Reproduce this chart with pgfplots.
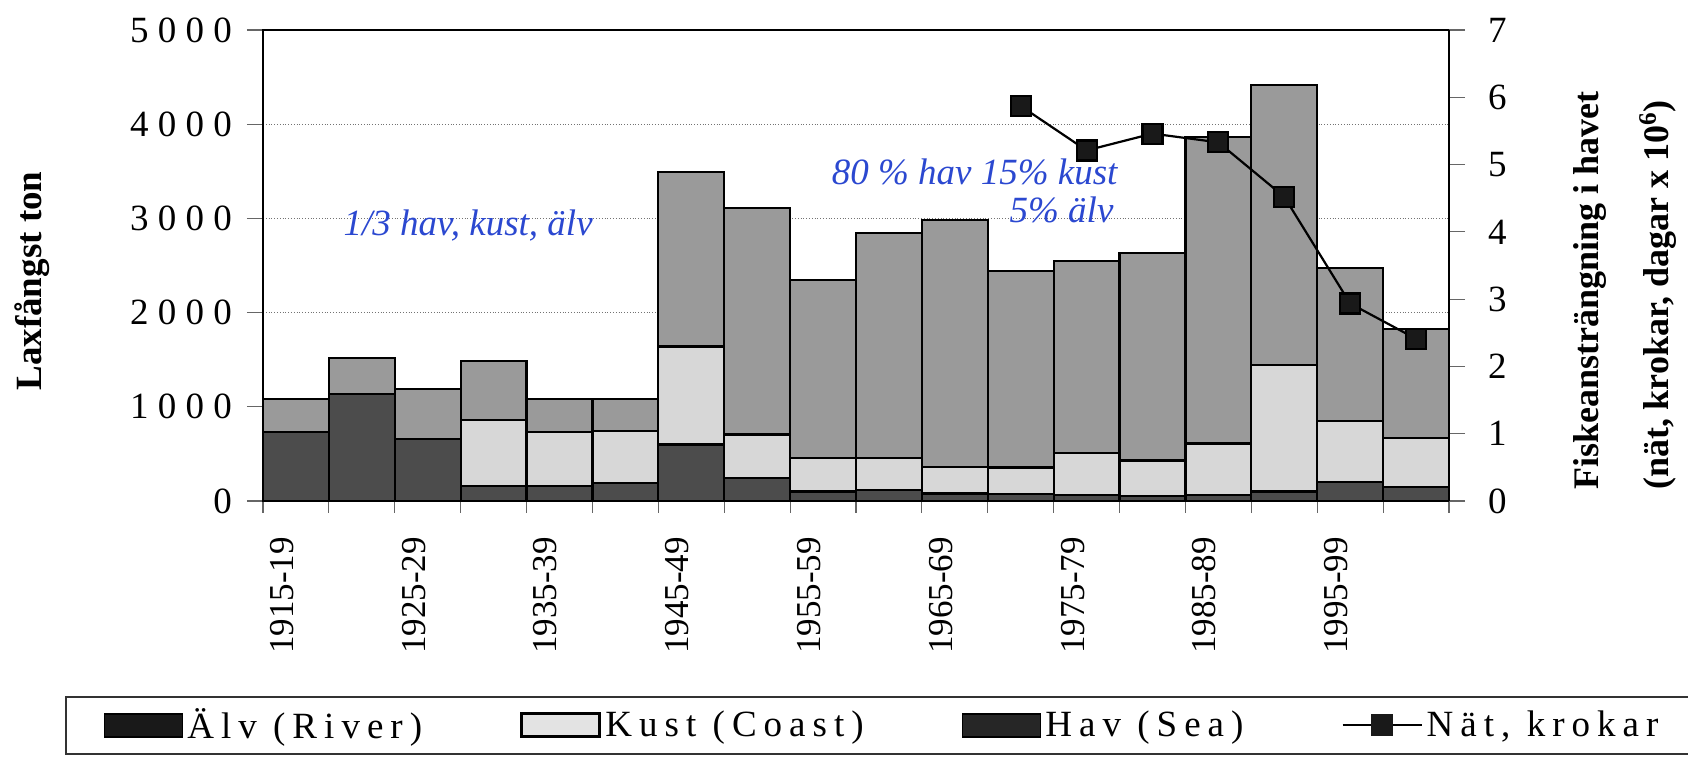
\documentclass[border=0pt]{standalone}
\usepackage{fontspec}
\setmainfont{Liberation Serif}
\newfontfamily\spaced{Liberation Serif}[LetterSpace=19]
\newfontfamily\tspaced{Liberation Serif}[LetterSpace=25]
\usepackage{pgfplots}
\pgfplotsset{compat=1.18}

\definecolor{alv}{HTML}{4C4C4C}
\definecolor{kust}{HTML}{D7D7D7}
\definecolor{hav}{HTML}{9A9A9A}
\definecolor{pen}{HTML}{2B48D0}

\newcommand\cf{\fontsize{18.5pt}{22pt}\selectfont}

\begin{document}
\begin{tikzpicture}
% page = reference frame, 1 px = 0.5pt, axis box at origin
\path[use as bounding box] (-131.5pt,-128.5pt) rectangle (712.5pt,250.5pt);

\begin{axis}[
    at={(0,0)}, anchor=south west,
    width=593pt, height=235.5pt, scale only axis,
    clip=false,
    xmin=-0.5, xmax=17.5,
    ymin=0, ymax=5000,
    ybar stacked, bar width=1,
    axis line style={line width=1pt},
    xtick={0,2,...,16},
    xticklabels={1915-19,1925-29,1935-39,1945-49,1955-59,1965-69,1975-79,1985-89,1995-99},
    major x tick style={draw=none},
    minor xtick={-0.5,0.5,...,17.5},
    xtick pos=bottom, ytick pos=left,
    tick align=outside,
    major tick length=8pt, minor tick length=6pt,
    tick style={black!60, line width=0.6pt},
    ytick={0,1000,...,5000},
    scaled y ticks=false,
    ymajorgrids,
    grid style={densely dotted, black!55, line width=0.6pt},
    /pgf/number format/assume math mode=true,
    /pgf/number format/1000 sep={},
    yticklabel style={font=\cf\tspaced, xshift=-4pt},
    xticklabel style={font={\fontsize{17.5pt}{21pt}\selectfont}, xshift=-7pt, yshift=-6.5pt, rotate=90, anchor=east},
]
% Alv (River)
\addplot[fill=alv, draw=black, line width=1.1pt] coordinates {
    (0,735) (1,1140) (2,655) (3,160) (4,155) (5,195) (6,600) (7,240) (8,100)
    (9,120) (10,80) (11,75) (12,60) (13,50) (14,60) (15,100) (16,200) (17,150)};
% Kust (Coast)
\addplot[fill=kust, draw=black, line width=1.1pt] coordinates {
    (0,0) (1,0) (2,0) (3,700) (4,575) (5,550) (6,1040) (7,465) (8,355)
    (9,340) (10,280) (11,280) (12,450) (13,380) (14,550) (15,1340) (16,645) (17,520)};
% Hav (Sea)
\addplot[fill=hav, draw=black, line width=1.1pt] coordinates {
    (0,350) (1,380) (2,535) (3,630) (4,355) (5,340) (6,1850) (7,2405) (8,1895)
    (9,2385) (10,2620) (11,2085) (12,2040) (13,2200) (14,3250) (15,2980) (16,1625) (17,1160)};

\node[font={\cf\bfseries}, rotate=90] at (rel axis cs:-0.195,0.467) {Laxfångst ton};
\node[font={\cf\itshape}, text=pen] at (rel axis cs:0.173,0.584) {1/3 hav, kust, älv};
\node[font={\cf\itshape}, text=pen] at (rel axis cs:0.600,0.698) {80 \% hav 15\% kust};
\node[font={\cf\itshape}, text=pen, anchor=east] at (rel axis cs:0.723,0.618) {5\% älv};
\end{axis}

\begin{axis}[
    at={(0,0)}, anchor=south west,
    width=593pt, height=235.5pt, scale only axis,
    clip=false,
    xmin=-0.5, xmax=17.5,
    ymin=0, ymax=7,
    axis x line=none,
    axis y line*=right,
    axis line style={line width=1pt},
    ytick={0,1,...,7},
    tick align=outside,
    major tick length=8pt,
    tick style={black!60, line width=0.6pt},
    /pgf/number format/assume math mode=true,
    yticklabel style={font=\cf, xshift=8pt},
    legend columns=4,
    legend cell align=left,
    legend style={at={(-0.167,-0.414)}, anchor=north west,
        draw=black!80, line width=0.8pt,
        inner xsep=19pt, inner ysep=4pt,
        font=\cf\spaced,
        /tikz/every even column/.append style={column sep=47pt}},
]
\addlegendimage{legend image code/.code={
    \draw[fill=black!90, draw=black, line width=0.8pt] (0pt,-5.75pt) rectangle (39pt,5.75pt);}}
\addlegendentry{Älv (River)}
\addlegendimage{legend image code/.code={
    \draw[fill=kust!70!white, draw=black, line width=1.6pt] (0pt,-5.75pt) rectangle (39pt,5.75pt);}}
\addlegendentry{Kust (Coast)}
\addlegendimage{legend image code/.code={
    \draw[fill=black!85, draw=black, line width=0.8pt] (0pt,-5.75pt) rectangle (39pt,5.75pt);}}
\addlegendentry{Hav (Sea)}
\addlegendimage{legend image code/.code={
    \draw[black, line width=1.1pt] (0pt,0pt) -- (39.5pt,0pt);
    \fill[black!90] (14.75pt,-5pt) rectangle (24.75pt,5pt);}}
\addlegendentry{Nät, krokar}

\addplot[black, line width=1.1pt, mark=square*, mark size=5pt,
    mark options={fill=black!90}, forget plot]
    coordinates {(11,5.87) (12,5.21) (13,5.46) (14,5.33) (15,4.52) (16,2.935) (17,2.41)};

\node[font={\fontsize{18pt}{22pt}\selectfont\bfseries}, rotate=90] at (rel axis cs:1.119,0.446) {Fiskeansträngning i havet};
\node[font={\fontsize{18pt}{22pt}\selectfont\bfseries}, rotate=90] at (rel axis cs:1.176,0.437) {(nät, krokar, dagar x 10\textsuperscript{6})};
\end{axis}
\end{tikzpicture}
\end{document}
